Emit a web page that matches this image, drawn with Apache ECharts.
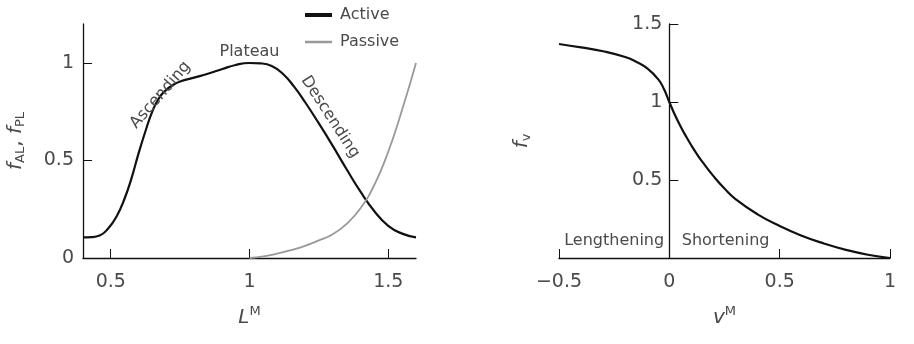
<!DOCTYPE html>
<html><head><meta charset="utf-8">
<script src="https://cdn.jsdelivr.net/npm/echarts@6/dist/echarts.min.js"></script>
<style>html,body{margin:0;padding:0;background:#fff}#c{width:914px;height:344px}</style>
</head><body><div id="c"></div>
<script>
// Left panel: force-length
var activeX = [0.40,0.43,0.46,0.49,0.52,0.55,0.575,0.60,0.625,0.65,0.675,0.70,0.725,0.75,0.80,0.85,0.90,0.95,1.00,1.04,1.08,1.12,1.16,1.20,1.25,1.30,1.35,1.40,1.45,1.50,1.55,1.60];
var activeY = [0.106,0.107,0.115,0.15,0.21,0.305,0.41,0.535,0.65,0.752,0.822,0.862,0.888,0.905,0.925,0.945,0.968,0.99,1.0,0.998,0.985,0.945,0.88,0.8,0.69,0.575,0.455,0.34,0.24,0.165,0.125,0.106];
var passiveX = [1.0,1.05,1.1,1.15,1.2,1.25,1.3,1.35,1.4,1.45,1.5,1.55,1.6];
var passiveY = [0,0.008,0.022,0.04,0.062,0.09,0.122,0.175,0.255,0.375,0.545,0.76,1.0];
var leftXTicks = [0.5,1,1.5];
var leftYTicks = [0,0.5,1];
// Right panel: force-velocity
var velX = [-0.5,-0.4,-0.3,-0.2,-0.15,-0.1,-0.05,-0.025,0,0.025,0.05,0.075,0.1,0.125,0.15,0.2,0.25,0.3,0.4,0.5,0.6,0.7,0.8,0.9,1.0];
var velY = [1.372,1.35,1.325,1.288,1.258,1.215,1.145,1.085,1.0,0.918,0.846,0.781,0.721,0.666,0.616,0.525,0.445,0.377,0.28,0.205,0.143,0.093,0.052,0.021,0];
var rightXTicks = [-0.5,0,0.5,1];
var rightYTicks = [0.5,1,1.5];
// Annotations (data coords)
var leftNotes = [
  {text:'Ascending', x:0.679, y:0.836, rot:49},
  {text:'Plateau', x:1.0, y:1.056, rot:0},
  {text:'Descending', x:1.291, y:0.723, rot:-57}
];
var rightNotes = [
  {text:'Lengthening', x:-0.25, y:0.109},
  {text:'Shortening', x:0.255, y:0.109}
];

function zip(a,b){return a.map(function(v,i){return [v,b[i]];});}
var FONT = 'DejaVu Sans';
var TXT = '#4a4a4a';
function fmt(v){ return String(v).replace('-', '\u2212'); }

var RX_MIN = -0.5, RX_MAX = 1, R_LEFT = 559, R_RIGHT = 24, W = 914;
var rGridW = W - R_LEFT - R_RIGHT;
var rYOffset = -(0 - RX_MIN) / (RX_MAX - RX_MIN) * rGridW;

var axisLine = {show:true, onZero:true, lineStyle:{color:'#111', width:1.3}};
var chart = echarts.init(document.getElementById('c'), null, {renderer:'canvas'});
chart.setOption({
  animation:false,
  textStyle:{fontFamily:FONT},
  legend:{
    orient:'vertical', left:298, top:2, itemWidth:27, itemHeight:14, itemGap:11,
    textStyle:{fontSize:16, color:TXT, fontFamily:FONT, padding:[0,0,0,3]},
    data:[
      {name:'Active', itemStyle:{opacity:0}, lineStyle:{width:4, color:'#111'}},
      {name:'Passive', itemStyle:{opacity:0}, lineStyle:{width:2.5, color:'#999'}}
    ]
  },
  grid:[
    {left:83, right:498, top:24, bottom:86},
    {left:R_LEFT, right:R_RIGHT, top:24, bottom:86}
  ],
  xAxis:[
    {gridIndex:0, type:'value', min:0.4, max:1.6, axisLine:axisLine,
     axisTick:{show:true, inside:true, length:9, customValues:leftXTicks, lineStyle:{color:'#111'}},
     axisLabel:{customValues:leftXTicks, fontSize:19, color:TXT, margin:15, fontFamily:FONT},
     splitLine:{show:false},
     name:'{i|L}{s|M}', nameLocation:'middle', nameGap:47,
     nameTextStyle:{rich:{i:{fontSize:20, fontStyle:'italic', color:TXT, fontFamily:FONT}, s:{fontSize:13, color:TXT, fontFamily:FONT, padding:[0,0,12,0]}}}},
    {gridIndex:1, type:'value', min:RX_MIN, max:RX_MAX, interval:0.5, axisLine:axisLine,
     axisTick:{show:true, inside:true, length:9, lineStyle:{color:'#111'}},
     axisLabel:{fontSize:19, color:TXT, margin:15, fontFamily:FONT, formatter:fmt, showMinLabel:true, showMaxLabel:true},
     splitLine:{show:false},
     name:'{i|v}{s|M}', nameLocation:'middle', nameGap:47,
     nameTextStyle:{rich:{i:{fontSize:20, fontStyle:'italic', color:TXT, fontFamily:FONT}, s:{fontSize:13, color:TXT, fontFamily:FONT, padding:[0,0,12,0]}}}}
  ],
  yAxis:[
    {gridIndex:0, type:'value', min:0, max:1.2, axisLine:axisLine,
     axisTick:{show:true, inside:true, length:9, customValues:leftYTicks, lineStyle:{color:'#111'}},
     axisLabel:{customValues:leftYTicks, fontSize:19, color:TXT, margin:9, fontFamily:FONT},
     splitLine:{show:false},
     name:'{i|f}{s|AL}{n|, }{i|f}{s|PL}', nameLocation:'middle', nameGap:56,
     nameTextStyle:{rich:{i:{fontSize:20, fontStyle:'italic', color:TXT, fontFamily:FONT}, n:{fontSize:20, color:TXT, fontFamily:FONT}, s:{fontSize:13, color:TXT, fontFamily:FONT, padding:[10,0,0,0]}}}},
    {gridIndex:1, type:'value', min:0, max:1.5, interval:0.5, offset:rYOffset,
     axisLine:{show:true, onZero:false, lineStyle:{color:'#111', width:1.3}},
     axisTick:{show:true, inside:true, length:9, lineStyle:{color:'#111'}},
     axisLabel:{fontSize:19, color:TXT, margin:7, fontFamily:FONT, formatter:function(v){return v===0?'':String(v);}},
     splitLine:{show:false},
     name:'{i|f}{s|v}', nameLocation:'middle', nameGap:136,
     nameTextStyle:{rich:{i:{fontSize:20, fontStyle:'italic', color:TXT, fontFamily:FONT}, s:{fontSize:13, color:TXT, fontFamily:FONT, padding:[10,0,0,0]}}}}
  ],
  series:[
    {name:'Active', type:'line', xAxisIndex:0, yAxisIndex:0, data:zip(activeX,activeY), smooth:0.5, symbol:'none',
     lineStyle:{color:'#111', width:2.2}, itemStyle:{color:'#111'},
     markPoint:{symbol:'circle', symbolSize:0, silent:true,
       data:leftNotes.map(function(n){return {coord:[n.x,n.y], value:n.text,
         label:{show:true, position:'inside', formatter:n.text, rotate:n.rot, fontSize:16, color:TXT, fontFamily:FONT}};})}},
    {name:'Passive', type:'line', xAxisIndex:0, yAxisIndex:0, data:zip(passiveX,passiveY), smooth:0.5, symbol:'none',
     lineStyle:{color:'#999', width:1.8}, itemStyle:{color:'#999'}},
    {name:'Velocity', type:'line', xAxisIndex:1, yAxisIndex:1, data:zip(velX,velY), smooth:0.5, symbol:'none',
     lineStyle:{color:'#111', width:2.2}, itemStyle:{color:'#111'},
     markPoint:{symbol:'circle', symbolSize:0, silent:true,
       data:rightNotes.map(function(n){return {coord:[n.x,n.y], value:n.text,
         label:{show:true, position:'inside', formatter:n.text, fontSize:16, color:TXT, fontFamily:FONT}};})}}
  ]
});
</script></body></html>
